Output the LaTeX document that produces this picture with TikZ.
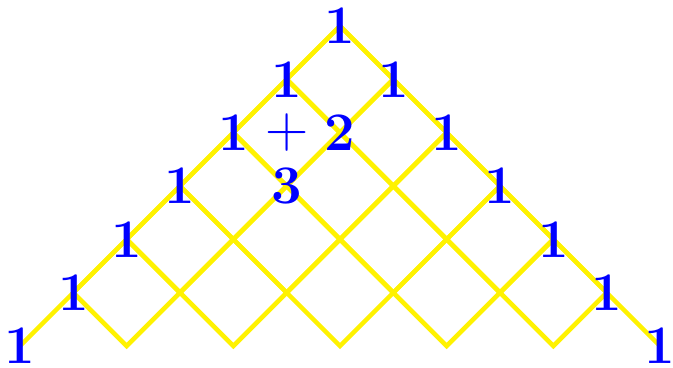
\documentclass[tikz,border=0pt]{standalone}
\begin{document}
\begin{tikzpicture}[x=1cm,y=1cm,
  gridline/.style={draw=yellow, line width=2.4pt, line join=miter},
  num/.style={text=blue, font=\fontsize{29}{35}\selectfont\bfseries, inner sep=0pt}]
\useasboundingbox (-6.375,0.4875) rectangle (6.244,-6.394);
% lattice points
\foreach \r in {0,...,6}{
  \foreach \k in {0,...,\r}{
    \coordinate (p\r-\k) at ({2*\k-\r},{-\r});
  }
}
% grid cells
\foreach \r in {0,...,4}{
  \pgfmathtruncatemacro\ra{\r+1}
  \pgfmathtruncatemacro\rb{\r+2}
  \foreach \k in {0,...,\r}{
    \pgfmathtruncatemacro\kn{\k+1}
    \draw[gridline] (p\r-\k) -- (p\ra-\k) -- (p\rb-\kn) -- (p\ra-\kn) -- cycle;
  }
}
% outer edges
\draw[gridline] (p0-0) -- (p1-0) -- (p2-0) -- (p3-0) -- (p4-0) -- (p5-0) -- (p6-0);
\draw[gridline] (p0-0) -- (p1-1) -- (p2-2) -- (p3-3) -- (p4-4) -- (p5-5) -- (p6-6);
% numbers on the edges
\foreach \r in {0,...,6}{
  \node[num] (l\r) at (p\r-0) {1};
}
\foreach \r in {1,...,6}{
  \node[num] (r\r) at (p\r-\r) {1};
}
\node[num] (two) at (p2-1) {2};
\node[num] (three) at (p3-1) {3};
\node[num, font=\fontsize{32}{38}\selectfont\mdseries] (plus) at (-1,-2) {+};
\end{tikzpicture}
\end{document}
